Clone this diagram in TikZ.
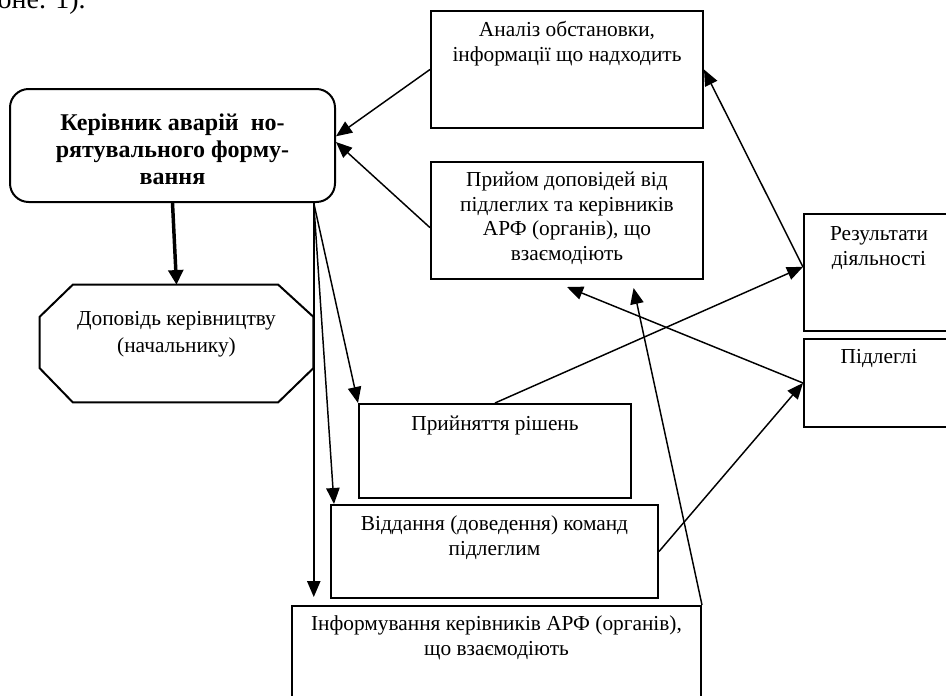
\documentclass[tikz,border=0pt]{standalone}
\usepackage{fontspec}
\setmainfont{Liberation Serif}
\usetikzlibrary{arrows.meta,calc,fit}
\begin{document}
\begin{tikzpicture}[x=0.75pt,y=-0.75pt,
  box/.style={draw,line width=1.5pt,inner sep=0pt},
  frame/.style={inner sep=0pt},
  lbl/.style={font=\fontsize{16}{18.5}\selectfont,align=center,inner sep=0pt,anchor=north},
  conn/.style={line width=1.1pt,-{Triangle[length=12pt,width=10pt]}},
  heavy/.style={line width=2.6pt,-{Triangle[length=11pt,width=11pt]}}]
\useasboundingbox (0,0) rectangle (946,696);

% tail of the preceding text line
\node[font=\fontsize{21}{25}\selectfont,anchor=base east,inner sep=0pt] (frag) at (86,8) {оне. 1).};

% boxes
\node[box,rounded corners=14pt,fit={(10,89) (335,202)}] (ker) {};
\node[box,fit={(431,11) (703,128)}] (an) {};
\node[box,fit={(431,162) (703,279)}] (pr) {};
\node[box,fit={(804,214) (954,331)}] (res) {};
\node[box,fit={(804,339) (954,427)}] (pid) {};
\node[frame,fit={(40,285) (313,402)}] (dop) {};
\node[box,fit={(359,404) (631,498)}] (rish) {};
\node[box,fit={(331,505) (658,598)}] (vid) {};
\node[box,fit={(292,606) (701,712)}] (inf) {};

% octagon around the report node
\draw[line width=1.5pt] ($(dop.north west)+(33,0)$) -- ($(dop.north east)+(-35,0)$)
  -- ($(dop.north east)+(0,32)$) -- ($(dop.south east)+(0,-34)$)
  -- ($(dop.south east)+(-35,0)$) -- ($(dop.south west)+(33,0)$)
  -- ($(dop.south west)+(0,-34)$) -- ($(dop.north west)+(0,32)$) -- cycle;

% texts
\node[lbl,font=\fontsize{18}{20.25}\selectfont\bfseries] (kerT) at (172.5,111)
  {\strut Керівник аварій~~но-\\рятувального форму-\\вання};
\node[lbl] (anT) at (567,19) {\strut Аналіз обстановки,\\інформації що надходить};
\node[lbl] (prT) at (567,169) {\strut Прийом доповідей від\\підлеглих та керівників\\АРФ (органів), що\\взаємодіють};
\node[lbl] (resT) at (879,223) {\strut Результати\\діяльності};
\node[lbl] (pidT) at (879,346) {\strut Підлеглі};
\node[lbl,font=\fontsize{16}{20.25}\selectfont] (dopT) at (176.5,306) {\strut Доповідь керівництву\\(начальнику)};
\node[lbl] (rishT) at (495,413) {\strut Прийняття рішень};
\node[lbl] (vidT) at (494.5,513) {\strut Віддання (доведення) команд\\підлеглим};
\node[lbl] (infT) at (496.5,613) {\strut Інформування керівників АРФ (органів),\\що взаємодіють};

% connection points
\coordinate (kb) at ($(ker.south west)!0.932!(ker.south east)$);
\coordinate (rs) at ($(res.north west)!0.453!(res.south west)$);

% connectors
\draw[conn] (an.west) -- ($(ker.north east)!0.42!(ker.south east)$);
\draw[conn] ($(pr.north west)!0.56!(pr.south west)$) -- ($(ker.north east)!0.47!(ker.south east)$);
\draw[heavy] (ker.south) -- (dop.north);
\draw[conn] (kb) -- (rish.north west);
\draw[conn] (kb) -- ([xshift=3pt]vid.north west);
\draw[conn] (kb) -- ($(kb |- inf.north)+(0,-8)$);
\draw[conn] (rs) -- (an.east);
\draw[conn] (rish.north) -- (rs);
\draw[conn] (pid.west) -- ($(pr.south)+(0,7)$);
\draw[conn] (vid.east) -- (pid.west);
\draw[conn] (inf.north east) -- ($(pr.south west)!0.743!(pr.south east)+(0,8)$);
\end{tikzpicture}
\end{document}
